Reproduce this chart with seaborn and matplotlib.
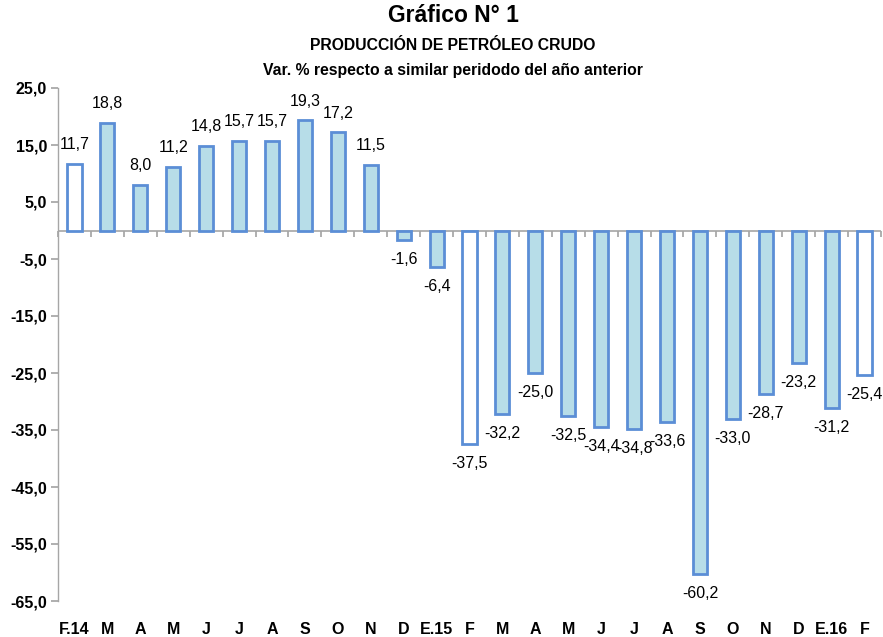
import matplotlib
matplotlib.use("Agg")
import matplotlib.pyplot as plt
import seaborn as sns
import pandas as pd
import numpy as np

categories = ["F.14", "M", "A", "M", "J", "J", "A", "S", "O", "N", "D", "E.15",
              "F", "M", "A", "M", "J", "J", "A", "S", "O", "N", "D", "E.16", "F"]
values = [11.7, 18.8, 8.0, 11.2, 14.8, 15.7, 15.7, 19.3, 17.2, 11.5, -1.6, -6.4,
          -37.5, -32.2, -25.0, -32.5, -34.4, -34.8, -33.6, -60.2, -33.0, -28.7, -23.2, -31.2, -25.4]
highlight = [True] + [False] * 11 + [True] + [False] * 11 + [True]
yticks = [25, 15, 5, -5, -15, -25, -35, -45, -55, -65]

sns.set_theme(style="white")
plt.rcParams['font.family'] = ['Liberation Sans', 'DejaVu Sans']
plt.rcParams['text.color'] = 'black'
plt.rcParams['xtick.color'] = 'black'
plt.rcParams['ytick.color'] = 'black'
plt.rcParams['axes.labelcolor'] = 'black'

FILL = "#B7DDE8"
EDGE = "#5B8ED6"
GRAY = "#A6A6A6"

df = pd.DataFrame({"pos": [str(i) for i in range(len(values))], "val": values})
colors = ["white" if h else FILL for h in highlight]

fig = plt.figure(figsize=(8.83, 6.37), dpi=100)
ax = fig.add_axes([58/883, 1-601/637, 823/883, 513/637])

sns.barplot(data=df, x="pos", y="val", hue="pos", palette=colors, legend=False,
            width=0.43, edgecolor=EDGE, linewidth=2, ax=ax, saturation=1)

ax.set_xlim(-0.5, len(values) - 0.5)
ax.set_ylim(-65, 25)
ax.set_yticks(yticks)
ax.set_yticklabels([f"{t:.1f}".replace(".", ",") for t in yticks],
                   fontweight="bold", fontsize=11.5)
ax.set_xticks(range(len(values)))
ax.set_xticklabels(categories, fontweight="bold", fontsize=11.5)
ax.tick_params(axis="x", length=0, pad=15)
ax.tick_params(axis="y", length=5, color=GRAY, direction="out", left=True, pad=3,
               labelcolor="black")
ax.set_xlabel("")
ax.set_ylabel("")

for s in ["top", "right", "bottom"]:
    ax.spines[s].set_visible(False)
ax.spines["left"].set_color(GRAY)
ax.spines["left"].set_linewidth(1)

# zero line with boundary ticks
ax.axhline(0, color=GRAY, lw=1.2, zorder=0.5)
zero_frac = (0 - (-65)) / 90
sec = ax.secondary_xaxis(zero_frac)
sec.set_xticks(np.arange(-0.5, len(values), 1.0))
sec.set_xticklabels([])
sec.spines["bottom"].set_visible(False)
sec.spines["top"].set_visible(False)
sec.tick_params(axis="x", top=False, bottom=True, direction="out", length=4, color=GRAY)

for i, v in enumerate(values):
    lbl = f"{v:.1f}".replace(".", ",")
    off = 14 if v >= 0 else -14
    ax.annotate(lbl, (i, v), xytext=(0, off), textcoords="offset points",
                ha="center", va="center", fontsize=11.5, color="black")

fig.text(0.513, 1-16/637, "Gráfico N° 1", ha="center", va="center",
         fontsize=16.5, fontweight="bold")
fig.text(0.513, 1-45/637, "PRODUCCIÓN DE PETRÓLEO CRUDO", ha="center", va="center",
         fontsize=11.3, fontweight="bold")
fig.text(0.513, 1-70/637, "Var. % respecto a similar peridodo del año anterior",
         ha="center", va="center", fontsize=11.3, fontweight="bold")

fig.savefig("out.png", dpi=100)
